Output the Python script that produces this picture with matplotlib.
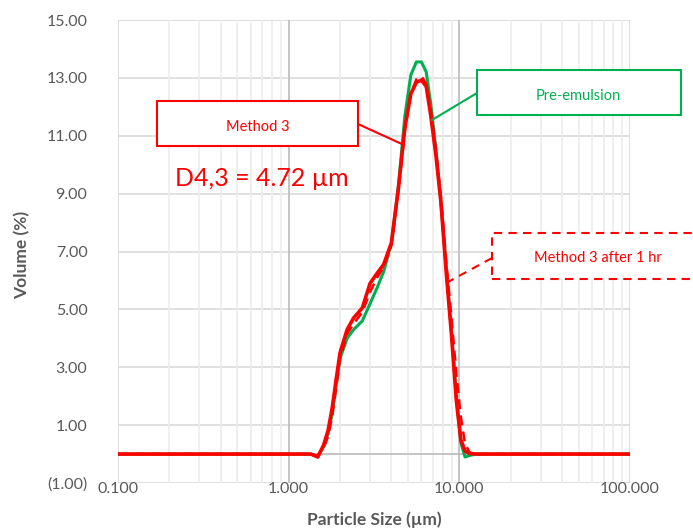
import matplotlib
matplotlib.use("Agg")
import matplotlib.pyplot as plt
from matplotlib.ticker import FixedLocator, FuncFormatter, NullFormatter

plt.rcParams['font.family'] = ['Lato', 'DejaVu Sans']

sizes = [0.1, 1.0, 1.35, 1.48, 1.6, 1.7, 1.8, 1.9, 2.0, 2.2, 2.4, 2.7, 3.0, 3.3, 3.6,
         4.0, 4.4, 4.8, 5.2, 5.6, 6.0, 6.4, 6.8, 7.3, 7.8, 8.4, 9.0, 9.6, 10.2,
         10.8, 11.5, 12.5, 14.0, 100.0]

pre_emulsion = [0, 0, 0, -0.1, 0.25, 0.7, 1.4, 2.4, 3.3, 4.0, 4.3, 4.6, 5.2, 5.75, 6.3,
                7.3, 9.3, 11.7, 13.1, 13.55, 13.55, 13.2, 12.1, 10.5, 8.7, 6.4, 4.2, 2.0, 0.4,
                -0.1, -0.05, 0, 0, 0]

method3 = [0, 0, 0, -0.1, 0.3, 0.8, 1.6, 2.6, 3.5, 4.3, 4.7, 5.05, 5.9, 6.25, 6.55,
           7.3, 9.2, 11.3, 12.45, 12.85, 12.92, 12.7, 11.7, 10.3, 8.7, 6.2, 4.1, 1.86, 0.5,
           0.1, 0.02, 0, 0, 0]

method3_1hr = [0, 0, 0, -0.05, 0.2, 0.6, 1.3, 2.3, 3.3, 4.15, 4.5, 4.9, 5.6, 6.1, 6.45,
               7.2, 9.1, 11.2, 12.45, 12.95, 13.05, 12.8, 11.9, 10.5, 8.9, 6.6, 4.7, 2.8, 1.3,
               0.35, 0.05, 0, 0, 0]

y_ticks = [-1, 1, 3, 5, 7, 9, 11, 13, 15]
x_ticks = [0.1, 1, 10, 100]
x_ticklabels = ["0.100", "1.000", "10.000", "100.000"]

GREEN = '#00b050'
RED = '#ff0000'
GRAY_TXT = '#595959'

fig = plt.figure(figsize=(6.93, 5.30), dpi=100)
ax = fig.add_axes([118/693, 1-483/530, (630-118)/693, (483-20)/530])
ax.set_xscale('log')
ax.set_xlim(0.1, 100)
ax.set_ylim(-1, 15)

# grid
for v in y_ticks:
    ax.axhline(v, color='#d9d9d9', lw=1.2, zorder=0)
ax.axhline(0, color='#bfbfbf', lw=1.3, zorder=1)
minors = [m * d for d in (0.1, 1, 10) for m in range(2, 10)]
for v in minors:
    ax.axvline(v, color='#ececec', lw=1.2, zorder=0)
for v in (0.1, 100):
    ax.axvline(v, color='#d9d9d9', lw=1.2, zorder=0)
for v in (1, 10):
    ax.axvline(v, color='#bfbfbf', lw=1.3, zorder=1)

for s in ax.spines.values():
    s.set_visible(False)

ax.plot(sizes, pre_emulsion, color=GREEN, lw=2.2, zorder=3, solid_joinstyle='round', solid_capstyle='round')
ax.plot(sizes, method3_1hr, color=RED, lw=1.8, ls=(0, (4, 2.5)), zorder=4)
ax.plot(sizes, method3, color=RED, lw=2.6, zorder=5, solid_joinstyle='round', solid_capstyle='round')

ax.yaxis.set_major_locator(FixedLocator(y_ticks))
ax.yaxis.set_major_formatter(FuncFormatter(lambda v, p: f"({abs(v):.2f})" if v < 0 else f"{v:.2f}"))
ax.xaxis.set_major_locator(FixedLocator(x_ticks))
ax.set_xticklabels(x_ticklabels)
ax.xaxis.set_minor_formatter(NullFormatter())
ax.tick_params(axis='both', which='both', length=0, colors=GRAY_TXT, labelsize=11.5)
ax.tick_params(axis='x', pad=-1)
ax.tick_params(axis='y', pad=22)

fig.text(374/693, 1-520/530, "Particle Size (µm)", color=GRAY_TXT, fontsize=12.5,
         fontweight='bold', ha='center', va='center')
fig.text(22/693, 1-255/530, "Volume (%)", color=GRAY_TXT, fontsize=12.5,
         fontweight='bold', ha='center', va='center', rotation=90)

def px(x, y):
    return (x / 693, 1 - y / 530)

# Method 3 box
fig.patches.append(plt.Rectangle(px(157, 146), 201/693, 45/530, transform=fig.transFigure,
                                 fill=True, facecolor='white', edgecolor=RED, lw=1.5, zorder=6))
fig.text(*px(258, 127), "Method 3", color=RED, fontsize=10.5, ha='center', va='center', zorder=7)
fig.lines.append(plt.Line2D([358/693, 404/693], [1-124/530, 1-145/530], transform=fig.transFigure,
                            color=RED, lw=1.5, zorder=6))
fig.text(*px(175, 179), "D4,3 = 4.72 µm", color=RED, fontsize=18, ha='left', va='center', zorder=7)

# Pre-emulsion box
fig.patches.append(plt.Rectangle(px(477, 115), 204/693, 45/530, transform=fig.transFigure,
                                 fill=True, facecolor='white', edgecolor=GREEN, lw=1.5, zorder=6))
fig.text(*px(578, 96), "Pre-emulsion", color=GREEN, fontsize=10.5, ha='center', va='center', zorder=7)
fig.lines.append(plt.Line2D([477/693, 432/693], [1-93/530, 1-120/530], transform=fig.transFigure,
                            color=GREEN, lw=1.5, zorder=6))

# Method 3 after 1 hr box (dashed, clipped at right edge)
fig.patches.append(plt.Rectangle(px(492, 279), 230/693, 46/530, transform=fig.transFigure,
                                 fill=True, facecolor='white', edgecolor=RED, lw=1.5,
                                 ls=(0, (4, 3)), zorder=6))
fig.text(*px(598, 258), "Method 3 after 1 hr", color=RED, fontsize=10.5, ha='center', va='center', zorder=7)
fig.lines.append(plt.Line2D([492/693, 448/693], [1-258/530, 1-282/530], transform=fig.transFigure,
                            color=RED, lw=1.5, ls=(0, (4, 3)), zorder=6))

fig.savefig("out.png", dpi=100)
